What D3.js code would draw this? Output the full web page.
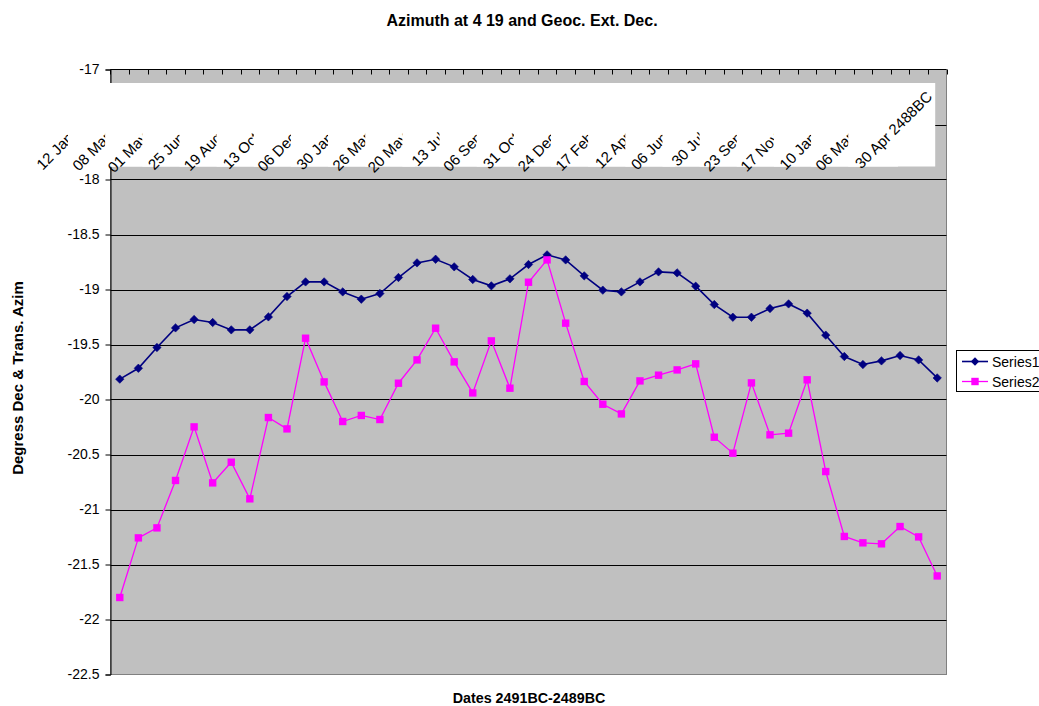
<!DOCTYPE html>
<html>
<head>
<meta charset="utf-8">
<script src="https://cdn.jsdelivr.net/npm/d3@7"></script>
<style>
  html, body { margin: 0; padding: 0; background: #fff; }
  svg { display: block; font-family: "Liberation Sans", Arial, sans-serif; }
</style>
</head>
<body>
<svg id="chart" width="1039" height="706"></svg>
<script>
// ---------------- data ----------------
const categories = [
  "12 Jan 2491BC","09 Feb 2491BC","08 Mar 2491BC","04 Apr 2491BC","01 May 2491BC","28 May 2491BC",
  "25 Jun 2491BC","22 Jul 2491BC","19 Aug 2491BC","15 Sep 2491BC","13 Oct 2491BC","09 Nov 2491BC",
  "06 Dec 2491BC","02 Jan 2490BC","30 Jan 2490BC","26 Feb 2490BC","26 Mar 2490BC","22 Apr 2490BC",
  "20 May 2490BC","16 Jun 2490BC","13 Jul 2490BC","09 Aug 2490BC","06 Sep 2490BC","03 Oct 2490BC",
  "31 Oct 2490BC","27 Nov 2490BC","24 Dec 2490BC","20 Jan 2489BC","17 Feb 2489BC","16 Mar 2489BC",
  "12 Apr 2489BC","09 May 2489BC","06 Jun 2489BC","03 Jul 2489BC","30 Jul 2489BC","26 Aug 2489BC",
  "23 Sep 2489BC","20 Oct 2489BC","17 Nov 2489BC","14 Dec 2489BC","10 Jan 2488BC","06 Feb 2488BC",
  "06 Mar 2488BC","02 Apr 2488BC","30 Apr 2488BC"
];
const labelInterval = 2;

const series1 = [
  -19.815,-19.716,-19.527,-19.349,-19.273,-19.300,-19.367,-19.367,-19.249,-19.064,
  -18.931,-18.931,-19.022,-19.088,-19.037,-18.891,-18.758,-18.725,-18.794,-18.909,
  -18.967,-18.903,-18.773,-18.685,-18.731,-18.876,-19.006,-19.022,-18.931,-18.840,
  -18.849,-18.970,-19.137,-19.252,-19.252,-19.173,-19.131,-19.215,-19.415,-19.609,
  -19.682,-19.649,-19.600,-19.640,-19.804
];
const series2 = [
  -21.800,-21.258,-21.167,-20.736,-20.249,-20.758,-20.570,-20.903,-20.164,-20.267,
  -19.443,-19.840,-20.200,-20.145,-20.182,-19.852,-19.640,-19.352,-19.658,-19.940,
  -19.467,-19.897,-18.934,-18.731,-19.306,-19.836,-20.043,-20.131,-19.831,-19.779,
  -19.731,-19.676,-20.343,-20.488,-19.849,-20.321,-20.306,-19.821,-20.655,-21.245,
  -21.303,-21.312,-21.155,-21.249,-21.604
];
const seriesNames = ["Series1", "Series2"];
const yTicks = [-17,-17.5,-18,-18.5,-19,-19.5,-20,-20.5,-21,-21.5,-22,-22.5];

const chartTitle = "Azimuth at 4 19 and Geoc. Ext. Dec.";
const xTitle = "Dates 2491BC-2489BC";
const yTitle = "Degress Dec & Trans. Azim";

// ---------------- layout ----------------
const svg = d3.select("#chart");
const plot = { left: 110.5, right: 946.5, top: 69.5, bottom: 674.5 };

const x = d3.scaleBand().domain(categories).range([plot.left, plot.right]).paddingInner(0).paddingOuter(0);
const bw = x.bandwidth();
const cx = c => x(c) + bw / 2;
const y = d3.scaleLinear().domain([-22.5, -17]).range([plot.bottom, plot.top]);

// plot background
svg.append("rect")
  .attr("x", plot.left).attr("y", plot.top)
  .attr("width", plot.right - plot.left).attr("height", plot.bottom - plot.top)
  .attr("fill", "#C0C0C0").attr("stroke", "#808080").attr("stroke-width", 1);

// gridlines
svg.append("g").selectAll("line")
  .data(yTicks.filter(v => v !== -17 && v !== -22.5))
  .join("line")
  .attr("x1", plot.left).attr("x2", plot.right)
  .attr("y1", d => Math.round(y(d)) + 0.5).attr("y2", d => Math.round(y(d)) + 0.5)
  .attr("stroke", "#000").attr("stroke-width", 1);

// y axis
const yAxis = d3.axisLeft(y).tickValues(yTicks).tickSize(5).tickPadding(6)
  .tickFormat(d => String(d));
const gy = svg.append("g").attr("transform", `translate(${plot.left},0)`).call(yAxis);
gy.select(".domain").attr("stroke", "#000");
gy.selectAll(".tick line").attr("stroke", "#000");
gy.selectAll(".tick text").attr("font-size", 14).attr("fill", "#000")
  .attr("font-family", "Liberation Sans, Arial, sans-serif");

// top category axis (ticks at boundaries, pointing inward)
const boundaries = categories.map(c => x(c)).concat([plot.right]);
svg.append("line")
  .attr("x1", plot.left).attr("x2", plot.right)
  .attr("y1", plot.top).attr("y2", plot.top)
  .attr("stroke", "#000");
svg.append("g").selectAll("line").data(boundaries).join("line")
  .attr("x1", d => Math.round(d) + 0.5).attr("x2", d => Math.round(d) + 0.5)
  .attr("y1", plot.top).attr("y2", plot.top + 5)
  .attr("stroke", "#000");

// category labels with opaque white boxes (later ones cover earlier ones)
const shown = categories.filter((c, i) => i % labelInterval === 0);
const labG = svg.append("g");
shown.forEach(c => {
  const px = cx(c) - 4, py = 97.5;
  labG.append("rect")
    .attr("x", px - 85).attr("y", 83)
    .attr("width", 87).attr("height", 83.5)
    .attr("fill", "#fff");
  labG.append("text")
    .attr("transform", `translate(${px},${py}) rotate(-45)`)
    .attr("text-anchor", "end")
    .attr("font-size", 15)
    .attr("fill", "#000")
    .text(c);
});

// series
const line = d3.line().x((d, i) => cx(categories[i])).y(d => y(d));
const colors = ["#000080", "#FF00FF"];

svg.append("path").datum(series1)
  .attr("d", line).attr("fill", "none").attr("stroke", colors[0]).attr("stroke-width", 1.6);
svg.append("g").selectAll("path").data(series1).join("path")
  .attr("transform", (d, i) => `translate(${cx(categories[i])},${y(d)})`)
  .attr("d", "M0,-4.2L4.2,0L0,4.2L-4.2,0Z")
  .attr("fill", colors[0]).attr("stroke", colors[0]).attr("stroke-width", 0.6);

svg.append("path").datum(series2)
  .attr("d", line).attr("fill", "none").attr("stroke", colors[1]).attr("stroke-width", 1.3);
svg.append("g").selectAll("rect").data(series2).join("rect")
  .attr("x", (d, i) => cx(categories[i]) - 3.7).attr("y", d => y(d) - 3.7)
  .attr("width", 7.4).attr("height", 7.4)
  .attr("fill", colors[1]);

// titles
svg.append("text").attr("x", 522).attr("y", 26).attr("text-anchor", "middle")
  .attr("font-size", 16).attr("font-weight", "bold").text(chartTitle);
svg.append("text").attr("x", 529).attr("y", 703).attr("text-anchor", "middle")
  .attr("font-size", 14.3).attr("font-weight", "bold").text(xTitle);
svg.append("text").attr("transform", "translate(23,378) rotate(-90)").attr("text-anchor", "middle")
  .attr("font-size", 15).attr("font-weight", "bold").text(yTitle);

// legend
const lg = svg.append("g");
lg.append("rect").attr("x", 956.5).attr("y", 350.5).attr("width", 100).attr("height", 41)
  .attr("fill", "#fff").attr("stroke", "#000");
seriesNames.forEach((name, k) => {
  const ly = 361.5 + k * 20;
  lg.append("line").attr("x1", 962).attr("x2", 988).attr("y1", ly).attr("y2", ly)
    .attr("stroke", colors[k]).attr("stroke-width", k === 0 ? 1.6 : 1.3);
  if (k === 0) {
    lg.append("path").attr("transform", `translate(975,${ly})`)
      .attr("d", "M0,-4.2L4.2,0L0,4.2L-4.2,0Z").attr("fill", colors[0]);
  } else {
    lg.append("rect").attr("x", 975 - 3.7).attr("y", ly - 3.7).attr("width", 7.4).attr("height", 7.4)
      .attr("fill", colors[1]);
  }
  lg.append("text").attr("x", 992).attr("y", ly + 5).attr("font-size", 14).text(name);
});
</script>
</body>
</html>
